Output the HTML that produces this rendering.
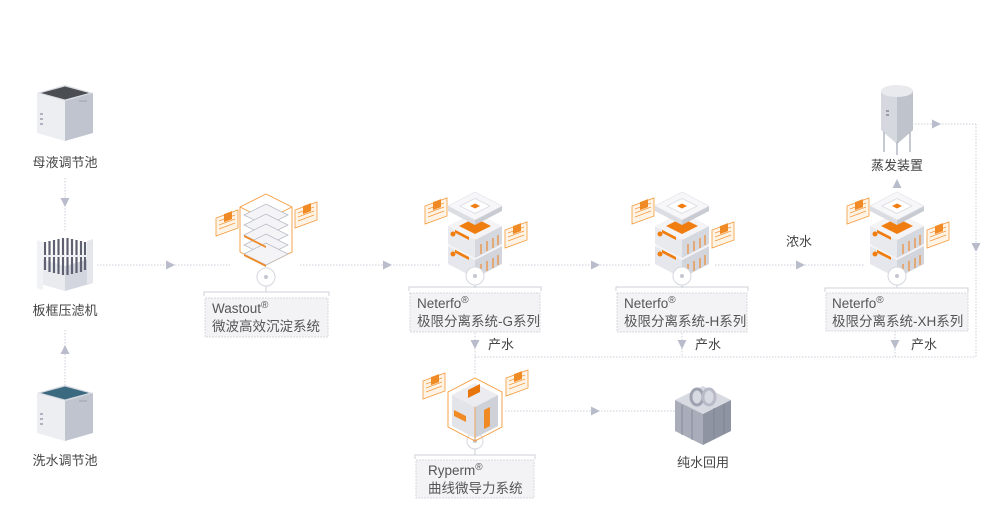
<!DOCTYPE html>
<html><head><meta charset="utf-8"><style>
html,body{margin:0;padding:0;background:#fff;}
svg{display:block}
text{font-family:"Liberation Sans","Noto Sans CJK SC",sans-serif;fill:#444;font-size:13px}
.b{font-size:13.5px;fill:#555}
</style></head><body>
<svg width="1000" height="515" viewBox="0 0 1000 515" xmlns="http://www.w3.org/2000/svg">
<defs>
<g id="arrR"><polygon points="-4,-4.5 5,0 -4,4.5" fill="#b9bccb"/></g>
<g id="arrD"><polygon points="-4.5,-4 4.5,-4 0,5" fill="#b9bccb"/></g>
<g id="arrU"><polygon points="-4.5,4 4.5,4 0,-5" fill="#b9bccb"/></g>
<g id="panel">
 <polygon points="0,0 22,-8 22,10 0,18" fill="#fff3e6" stroke="#f39a3c" stroke-width="0.8"/>
 <line x1="3" y1="3" x2="19" y2="-3" stroke="#f39a3c" stroke-width="0.7"/>
 <line x1="3" y1="7" x2="19" y2="1" stroke="#f39a3c" stroke-width="0.7"/>
 <line x1="3" y1="11" x2="19" y2="5" stroke="#f39a3c" stroke-width="0.7"/>
 <rect x="8" y="-1" width="8" height="8" fill="#f08a25" transform="skewY(-20)"/>
</g>
<g id="neter">
 <polygon points="-27,2 0,16 0,34 -27,20" fill="#e6e7ec"/>
 <polygon points="0,16 27,2 27,20 0,34" fill="#d3d5dd"/>
 <polygon points="-27,2 0,-12 27,2 0,16" fill="#f4f4f6"/>
 <polygon points="-14,2 0,-5 14,2 0,9" fill="#f07d10"/>
 <rect x="-20" y="16" width="14" height="3" fill="#f07d10" transform="skewY(27)"/>
 <circle cx="-22" cy="10" r="2.5" fill="#f07d10"/>
 <g stroke="#f07d10" stroke-width="1"><line x1="6" y1="30" x2="6" y2="20"/><line x1="12" y1="27" x2="12" y2="17"/><line x1="18" y1="24" x2="18" y2="14"/><line x1="23" y1="21" x2="23" y2="11"/></g>
 <polygon points="-27,-18 0,-4 0,14 -27,0" fill="#e9eaee"/>
 <polygon points="0,-4 27,-18 27,0 0,14" fill="#d6d8df"/>
 <polygon points="-27,-18 0,-32 27,-18 0,-4" fill="#f4f4f6"/>
 <polygon points="-16,-18 0,-26 16,-18 0,-10" fill="#f07d10"/>
 <rect x="-20" y="-4" width="14" height="3" fill="#f07d10" transform="skewY(27)"/>
 <circle cx="-22" cy="-10" r="2.5" fill="#f07d10"/>
 <g stroke="#f07d10" stroke-width="1"><line x1="6" y1="10" x2="6" y2="0"/><line x1="12" y1="7" x2="12" y2="-3"/><line x1="18" y1="4" x2="18" y2="-6"/><line x1="23" y1="1" x2="23" y2="-9"/></g>
 <polygon points="-27,-38 0,-24 0,-19 -27,-33" fill="#dcdde3"/>
 <polygon points="0,-24 27,-38 27,-33 0,-19" fill="#c9cbd3"/>
 <polygon points="-27,-38 0,-52 27,-38 0,-24" fill="#f7f7f9" stroke="#e0e1e6" stroke-width="0.6"/>
 <polygon points="-15,-38 0,-45.5 15,-38 0,-30.5" fill="#fff" stroke="#dadbe1" stroke-width="0.8"/>
 <polygon points="-5,-38 0,-40.5 5,-38 0,-35.5" fill="#f07d10"/>
 <use href="#panel" x="-50" y="-38"/>
 <use href="#panel" x="30" y="-14"/>
</g>
<g id="tank">
 <polygon points="0,-8 28,-16 56,-8 28,0" fill="#d9dbe2"/>
 <polygon points="4,-8 28,-14.5 52,-8 28,-1.5" fill="currentColor"/>
 <polygon points="0,-8 28,0 28,40 0,32" fill="#eceef2"/>
 <polygon points="28,0 56,-8 56,32 28,40" fill="#c0c4ce"/>
 <rect x="3" y="12" width="3" height="2" fill="#b0b3bf"/><rect x="3" y="17" width="3" height="2" fill="#b0b3bf"/><rect x="3" y="22" width="3" height="2" fill="#b0b3bf"/>
 <rect x="42" y="-1" width="8" height="2" fill="#b0b3bf"/>
</g>
</defs>

<g stroke="#ccced8" stroke-width="1" stroke-dasharray="1.5,1.5" fill="none">
 <line x1="65" y1="178" x2="65" y2="232"/>
 <line x1="65" y1="330" x2="65" y2="385"/>
 <line x1="97" y1="265" x2="230" y2="265"/>
 <line x1="300" y1="265" x2="440" y2="265"/>
 <line x1="510" y1="265" x2="650" y2="265"/>
 <line x1="715" y1="265" x2="865" y2="265"/>
 <line x1="475" y1="333" x2="475" y2="375"/>
 <line x1="682" y1="333" x2="682" y2="357"/>
 <line x1="895" y1="331" x2="895" y2="357"/>
 <line x1="475" y1="357" x2="976" y2="357"/>
 <line x1="976" y1="124" x2="976" y2="357"/>
 <line x1="912" y1="124" x2="976" y2="124"/>
 <line x1="505" y1="411" x2="680" y2="411"/>
</g>
<use href="#arrD" x="65" y="202"/>
<use href="#arrU" x="65" y="350"/>
<use href="#arrR" x="170" y="265"/>
<use href="#arrR" x="387" y="265"/>
<use href="#arrR" x="595" y="265"/>
<use href="#arrR" x="800" y="265"/>
<use href="#arrD" x="475" y="344"/>
<use href="#arrD" x="682" y="344"/>
<use href="#arrD" x="895" y="344"/>
<use href="#arrD" x="976" y="247"/>
<use href="#arrR" x="936" y="124"/>
<use href="#arrU" x="897" y="184"/>
<use href="#arrR" x="595" y="411"/>

<use href="#tank" x="37" y="101" style="color:#4a4d52"/>
<use href="#tank" x="37" y="401" style="color:#3b6a80"/>
<g>
 <polygon points="37,258 65,266 65,291 37,283" fill="#e9ebef"/>
 <polygon points="65,266 93,258 93,283 65,291" fill="#d3d6de"/>
 <g stroke="#5d6172" stroke-width="2.2">
  <line x1="45" y1="242" x2="45" y2="270"/><line x1="49.5" y1="241" x2="49.5" y2="272"/><line x1="54" y1="240" x2="54" y2="273"/><line x1="58.5" y1="239" x2="58.5" y2="274"/><line x1="63" y1="238" x2="63" y2="275"/><line x1="67.5" y1="238" x2="67.5" y2="275"/><line x1="72" y1="239" x2="72" y2="274"/><line x1="76.5" y1="240" x2="76.5" y2="273"/><line x1="81" y1="241" x2="81" y2="272"/><line x1="85" y1="242" x2="85" y2="270"/>
 </g>
 <line x1="42" y1="256" x2="90" y2="256" stroke="#eceef2" stroke-width="2"/>
 <polygon points="37,240 43,242 43,290 37,288" fill="#f1f2f5"/>
 <polygon points="87,241 93,239 93,283 87,285" fill="#e4e6eb"/>
</g>
<text x="65" y="167" text-anchor="middle">母液调节池</text>
<text x="65" y="315" text-anchor="middle">板框压滤机</text>
<text x="65" y="465" text-anchor="middle">洗水调节池</text>

<g fill="none" stroke="#f39a3c" stroke-width="0.9">
 <polygon points="240,207 266,194 292,207 292,252 266,265 240,252"/>
 <line x1="266" y1="220" x2="266" y2="265"/>
 <line x1="240" y1="207" x2="266" y2="220"/><line x1="292" y1="207" x2="266" y2="220"/>
</g>
<g stroke="#b5b8c2" stroke-width="0.7" fill="#f4f4f6">
 <polygon points="244,215 266,204 288,215 266,226"/>
 <polygon points="244,225 266,214 288,225 266,236"/>
 <polygon points="244,235 266,224 288,235 266,246"/>
 <polygon points="244,245 266,234 288,245 266,256"/>
 <polygon points="244,254 266,243 288,254 266,265"/>
</g>
<g fill="#f08a25">
 <polygon points="244,254 266,265 266,267 244,256"/><polygon points="244,235 266,246 266,248 244,237"/>
</g>
<use href="#panel" x="216" y="218"/>
<use href="#panel" x="295" y="210"/>

<use href="#neter" x="475" y="244"/>
<use href="#neter" x="682" y="244"/>
<use href="#neter" x="897" y="244"/>

<g fill="#fff" stroke="#d5d7de" stroke-width="1">
 <circle cx="266" cy="277" r="9"/><circle cx="475" cy="276" r="9"/><circle cx="682" cy="276" r="9"/><circle cx="897" cy="276" r="9"/><circle cx="475" cy="441" r="8"/>
</g>
<g fill="#c5c7d0"><circle cx="266" cy="277" r="2"/><circle cx="475" cy="276" r="2"/><circle cx="682" cy="276" r="2"/><circle cx="897" cy="276" r="2"/><circle cx="475" cy="441" r="2"/></g>
<g stroke="#ccced8" stroke-width="1">
 <line x1="266" y1="286" x2="266" y2="292"/><line x1="475" y1="285" x2="475" y2="288"/><line x1="682" y1="285" x2="682" y2="288"/><line x1="897" y1="285" x2="897" y2="288"/><line x1="475" y1="449" x2="475" y2="455"/>
</g>

<g fill="none" stroke="#cfd1da" stroke-width="1">
 <polyline points="204,296 204,292 329,292 329,296"/>
 <polyline points="409,291 409,287 541,287 541,291"/>
 <polyline points="616,291 616,287 748,287 748,291"/>
 <polyline points="825,292 825,288 968,288 968,292"/>
 <polyline points="415,459 415,455 535,455 535,459"/>
</g>
<g fill="#f3f3f5" stroke="#d8d9df" stroke-width="1" stroke-dasharray="2,1">
 <rect x="205" y="298" width="123" height="39"/>
 <rect x="410" y="293" width="130" height="39"/>
 <rect x="617" y="293" width="130" height="39"/>
 <rect x="826" y="293" width="142" height="38"/>
 <rect x="416" y="460" width="118" height="38"/>
</g>
<text class="b" x="212" y="313">Wastout<tspan font-size="10" dy="-5">®</tspan></text>
<text class="b" x="212" y="331">微波高效沉淀系统</text>
<text class="b" x="417" y="308">Neterfo<tspan font-size="10" dy="-5">®</tspan></text>
<text class="b" x="417" y="326">极限分离系统-G系列</text>
<text class="b" x="624" y="308">Neterfo<tspan font-size="10" dy="-5">®</tspan></text>
<text class="b" x="624" y="326">极限分离系统-H系列</text>
<text class="b" x="832" y="308">Neterfo<tspan font-size="10" dy="-5">®</tspan></text>
<text class="b" x="832" y="326">极限分离系统-XH系列</text>
<text class="b" x="428" y="475">Ryperm<tspan font-size="10" dy="-5">®</tspan></text>
<text class="b" x="428" y="493">曲线微导力系统</text>

<text x="488" y="349">产水</text>
<text x="695" y="349">产水</text>
<text x="911" y="349">产水</text>
<text x="786" y="246">浓水</text>

<g>
 <polygon points="448,392 475,378 502,392 502,427 475,441 448,427" fill="none" stroke="#f39a3c" stroke-width="0.9"/>
 <polygon points="452,395 475,383 498,395 475,407" fill="#ececf0"/>
 <polygon points="452,395 475,407 475,438 452,426" fill="#e3e4e9"/>
 <polygon points="475,407 498,395 498,426 475,438" fill="#cfd1d9"/>
 <polygon points="468,390 480,384 480,392 468,398" fill="#e8740c"/>
 <polygon points="454,410 466,416 466,422 454,416" fill="#f08a25"/>
 <polygon points="484,410 490,407 490,426 484,429" fill="#f08a25"/>
 <line x1="475" y1="407" x2="475" y2="441" stroke="#f39a3c" stroke-width="0.8"/>
 <use href="#panel" x="423" y="381"/>
 <use href="#panel" x="506" y="378"/>
</g>

<g>
 <polygon points="675,400 703,386 731,400 703,414" fill="#d8dae1"/>
 <polygon points="675,400 703,414 703,445 675,431" fill="#a9adba"/>
 <polygon points="703,414 731,400 731,431 703,445" fill="#8f94a3"/>
 <g stroke="#7d8292" stroke-width="0.8"><line x1="682" y1="405" x2="682" y2="435"/><line x1="692" y1="410" x2="692" y2="440"/><line x1="714" y1="408" x2="714" y2="439"/><line x1="724" y1="404" x2="724" y2="434"/></g>
 <ellipse cx="697" cy="397" rx="6" ry="8" fill="none" stroke="#9ea2b0" stroke-width="3"/>
 <ellipse cx="709" cy="397" rx="6" ry="8" fill="none" stroke="#b8bbc7" stroke-width="3"/>
</g>
<text x="703" y="467" text-anchor="middle">纯水回用</text>

<g>
 <path d="M881,92 Q897,82 913,92 L913,130 L897,144 L881,130 Z" fill="#d5d8df"/>
 <path d="M897,86 Q913,86 913,92 L913,130 L897,144 Z" fill="#bfc3cc"/>
 <ellipse cx="897" cy="91" rx="16" ry="6" fill="#e9eaee"/>
 <rect x="886" y="110" width="3" height="2" fill="#9a9eab"/><rect x="886" y="114" width="3" height="2" fill="#9a9eab"/>
 <g stroke="#a9adb9" stroke-width="1.3"><line x1="884" y1="132" x2="884" y2="152"/><line x1="897" y1="142" x2="897" y2="155"/><line x1="910" y1="132" x2="910" y2="152"/></g>
</g>
<text x="897" y="170" text-anchor="middle">蒸发装置</text>
</svg>
</body></html>
